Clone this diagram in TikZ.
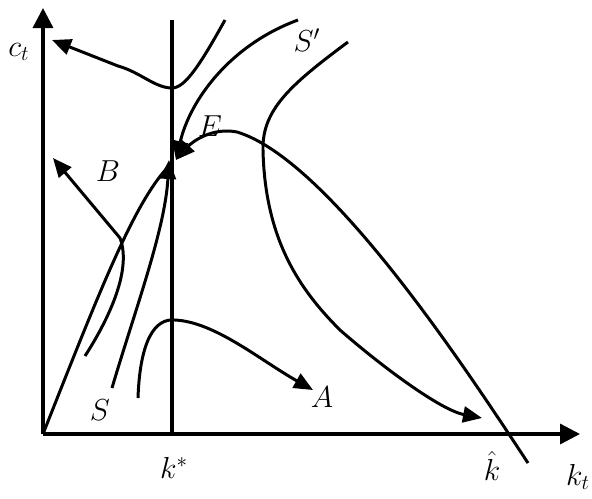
\documentclass[tikz,border=0pt]{standalone}
\usetikzlibrary{arrows.meta}

\begin{document}
\begin{tikzpicture}[
    x=0.02cm, y=-0.02cm,
    axis/.style={line width=1.9pt, -{Triangle[length=0.4cm,width=0.4cm]}},
    curve/.style={line width=1.7pt, line join=round},
    flow/.style={curve, -{Triangle[length=0.38cm,width=0.32cm]}},
    lbl/.style={font=\fontsize{18}{20}\selectfont, inner sep=0pt}
]
    \useasboundingbox (0,0) rectangle (592,498);
    \coordinate (O) at (43,434);
    \coordinate (ytip) at (43,8);
    \coordinate (xtip) at (580,434);
    \coordinate (ktop) at (172,20);
    \coordinate (kbot) at (172,434);
    \coordinate (E) at (176,160);
    % axes and the vertical locus
    \draw [axis] (O) -- (ytip);
    \draw [axis] (O) -- (xtip);
    \draw [curve, line width=2.1pt] (kbot) -- (ktop);
    % trajectories
    \draw [flow] (225,20) .. controls (200,65) and (185,88) .. (172,88)
        .. controls (155,88) and (140,72) .. (118,66) -- (52,40);
    \draw [flow] (298,20) .. controls (230,45) and (190,100) .. (E);
    \draw [flow] (528,463) .. controls (470,375) and (330,160) .. (237,132)
        .. controls (212,127) and (192,142) .. (E);
    \draw [curve] (O) .. controls (100,290) and (135,200) .. (170,165);
    \draw [flow] (112,388) .. controls (135,310) and (165,230) .. (169,160);
    \draw [flow] (85,356) .. controls (105,325) and (133,272) .. (120,238) -- (53,158);
    \draw [flow] (138,398) .. controls (140,340) and (155,318) .. (175,320)
        .. controls (215,322) and (260,360) .. (313,390);
    \draw [flow] (348,42) .. controls (290,85) and (262,110) .. (263,150)
        .. controls (265,240) and (300,290) .. (340,330)
        .. controls (380,365) and (440,410) .. (482,418);
    % labels
    \node [lbl] (ct) at (19,52) {$c_t$};
    \node [lbl] (kt) at (578,477) {$k_t$};
    \node [lbl] (khat) at (492,466) {$\hat{k}$};
    \node [lbl] (kstar) at (174,468) {$k^*$};
    \node [lbl] (Slbl) at (100,410) {$S$};
    \node [lbl] (Sp) at (307,40) {$S'$};
    \node [lbl] (Blbl) at (108,171) {$B$};
    \node [lbl] (Elbl) at (210,126) {$E$};
    \node [lbl] (Albl) at (322,397) {$A$};
\end{tikzpicture}
\end{document}
